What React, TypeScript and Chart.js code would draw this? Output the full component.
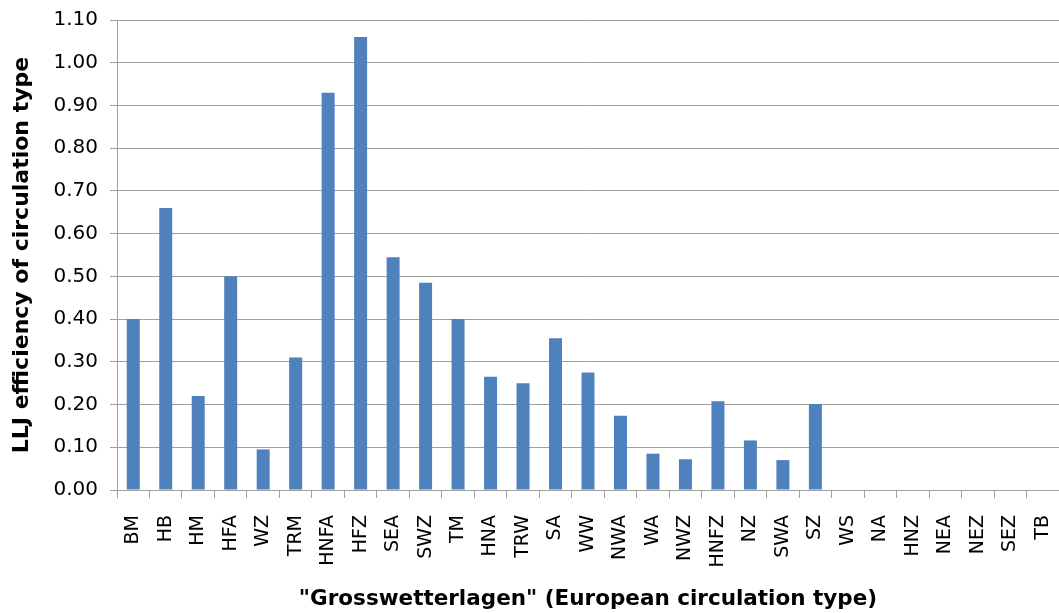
import React, { useEffect, useRef } from "react";
import { Chart, registerables } from "chart.js";

Chart.register(...registerables);

const categories = [
  "BM", "HB", "HM", "HFA", "WZ", "TRM", "HNFA", "HFZ", "SEA", "SWZ", "TM", "HNA", "TRW", "SA", "WW",
  "NWA", "WA", "NWZ", "HNFZ", "NZ", "SWA", "SZ", "WS", "NA", "HNZ", "NEA", "NEZ", "SEZ", "TB",
];

const efficiency = [
  0.40, 0.66, 0.22, 0.50, 0.095, 0.31, 0.93, 1.06, 0.545, 0.485, 0.40, 0.265, 0.25, 0.355, 0.275,
  0.174, 0.085, 0.072, 0.208, 0.116, 0.07, 0.201, 0, 0, 0, 0, 0, 0, 0,
];

const yTickValues = [0, 0.1, 0.2, 0.3, 0.4, 0.5, 0.6, 0.7, 0.8, 0.9, 1.0, 1.1];

const yTitle = "LLJ efficiency of circulation type";
const xTitle = '"Grosswetterlagen" (European circulation type)';

export default function App() {
  const canvasRef = useRef<HTMLCanvasElement | null>(null);

  useEffect(() => {
    const canvas = canvasRef.current;
    if (!canvas) return;
    const gridColor = "#a0a0a0";
    const chart = new Chart(canvas, {
      type: "bar",
      data: {
        labels: categories,
        datasets: [
          {
            data: efficiency,
            backgroundColor: "#4f81bd",
            borderWidth: 0,
            barPercentage: 0.4,
            categoryPercentage: 1,
          },
        ],
      },
      options: {
        animation: false,
        responsive: true,
        maintainAspectRatio: false,
        layout: { padding: { top: 20, right: 0, left: 0, bottom: 0 } },
        plugins: {
          legend: { display: false },
          tooltip: { enabled: false },
        },
        scales: {
          x: {
            offset: true,
            grid: {
              display: true,
              drawOnChartArea: false,
              drawTicks: true,
              tickLength: 8,
              offset: true,
              color: gridColor,
            },
            border: { display: true, color: gridColor },
            ticks: {
              autoSkip: false,
              maxRotation: 90,
              minRotation: 90,
              padding: 17,
              color: "#000",
              font: { family: "DejaVu Sans", size: 19 },
            },
            title: {
              display: true,
              text: xTitle,
              color: "#000",
              font: { family: "DejaVu Sans", size: 21.5, weight: "bold" },
              padding: { top: 4, bottom: 1 },
            },
            afterFit: (scale: any) => {
              scale.height = 123;
              scale.paddingRight = 0;
              scale.paddingLeft = 0;
            },
          },
          y: {
            min: 0,
            max: 1.1,
            afterBuildTicks: (scale: any) => {
              scale.ticks = yTickValues.map((v) => ({ value: v }));
            },
            grid: {
              color: gridColor,
              tickLength: 7,
              drawTicks: true,
            },
            border: { display: true, color: gridColor },
            ticks: {
              padding: 12,
              color: "#000",
              font: { family: "DejaVu Sans", size: 20 },
              callback: (v: any) => Number(v).toFixed(2),
            },
            title: {
              display: true,
              text: yTitle,
              color: "#000",
              font: { family: "DejaVu Sans", size: 22, weight: "bold" },
              padding: { top: 9, bottom: 0 },
            },
            afterFit: (scale: any) => {
              scale.width = 117;
              scale.paddingTop = 0;
              scale.paddingBottom = 0;
            },
          },
        },
      },
    });
    return () => chart.destroy();
  }, []);

  return (
    <div style={{ position: "fixed", left: 0, top: 0, width: 1059, height: 613, background: "#fff" }}>
      <canvas ref={canvasRef} />
    </div>
  );
}
